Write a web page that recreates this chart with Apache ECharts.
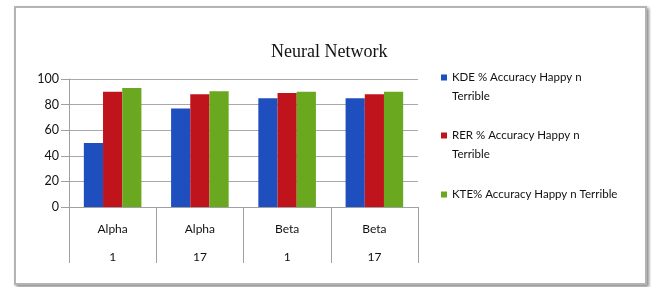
<!DOCTYPE html>
<html>
<head>
<meta charset="utf-8">
<script src="https://cdn.jsdelivr.net/npm/echarts@6/dist/echarts.min.js"></script>
<style>
  html, body { margin: 0; padding: 0; background: #fff; }
  #wrap { position: relative; width: 651px; height: 287px; overflow: hidden; }
  #frame {
    position: absolute; left: 14px; top: 6px; width: 629px; height: 275px;
    border: 2px solid #b4b4b4; box-shadow: 2px 2px 3px #8a8a8a;
  }
  #chart { position: absolute; left: 0; top: 0; width: 651px; height: 287px; }
</style>
</head>
<body>
<div id="wrap">
  <div id="frame"></div>
  <div id="chart"></div>
</div>
<script>
  // chart data
  const groupNames = ["Alpha", "Alpha", "Beta", "Beta"];
  const subNames = ["1", "17", "1", "17"];
  const seriesNames = [
    "KDE % Accuracy Happy n\nTerrible",
    "RER % Accuracy Happy n\nTerrible",
    "KTE% Accuracy Happy n Terrible"
  ];
  const kdeValues = [50, 77, 85, 85];
  const rerValues = [90, 88, 89, 88];
  const kteValues = [93, 90.5, 90, 90];
  const yTicks = [0, 20, 40, 60, 80, 100];

  const colors = ["#1f4fbf", "#c0141c", "#6aa820"];
  const sansFont = "Lato, 'Liberation Sans', Arial, sans-serif";

  const categories = groupNames.map(function (g, i) { return g + "\n" + subNames[i]; });

  // one legend per item so the square sits on the first text line
  function legendFor(idx, top, twoLines) {
    return {
      show: true,
      data: [seriesNames[idx]],
      left: 441,
      top: top,
      padding: 0,
      orient: "vertical",
      icon: "rect",
      itemWidth: 6,
      itemHeight: 6,
      itemGap: 0,
      selectedMode: false,
      formatter: function (name) { return twoLines ? "\n" + name : name; },
      textStyle: {
        fontFamily: sansFont,
        fontSize: 11.5,
        color: "#111",
        lineHeight: 19
      }
    };
  }

  const chart = echarts.init(document.getElementById("chart"), null, { renderer: "canvas" });

  const option = {
    animation: false,
    color: colors,
    title: {
      text: "Neural Network",
      left: 266,
      top: 38,
      textStyle: {
        fontFamily: "'Liberation Serif', 'Times New Roman', serif",
        fontSize: 18,
        fontWeight: "normal",
        color: "#111"
      }
    },
    legend: [
      legendFor(0, 49, true),
      legendFor(1, 107, true),
      legendFor(2, 185, false)
    ],
    grid: { left: 69, right: 233, top: 79, bottom: 80, containLabel: false },
    xAxis: {
      type: "category",
      data: categories,
      axisLine: { show: true, lineStyle: { color: "#a0a0a0", width: 1 } },
      axisTick: { show: true, length: 56, lineStyle: { color: "#a0a0a0" } },
      axisLabel: {
        margin: 8,
        lineHeight: 28,
        fontFamily: sansFont,
        fontSize: 12,
        color: "#111"
      }
    },
    yAxis: {
      type: "value",
      min: yTicks[0],
      max: yTicks[yTicks.length - 1],
      interval: 20,
      axisLine: { show: true, lineStyle: { color: "#a0a0a0" } },
      axisTick: { show: true, length: 8, inside: false, lineStyle: { color: "#a0a0a0" } },
      splitLine: { show: true, lineStyle: { color: "#a8a8a8" } },
      axisLabel: {
        margin: 10,
        fontFamily: sansFont,
        fontSize: 12.5,
        color: "#111"
      }
    },
    series: [
      { name: seriesNames[0], type: "bar", data: kdeValues, barGap: "0%", barCategoryGap: "34%" },
      { name: seriesNames[1], type: "bar", data: rerValues, barGap: "0%", barCategoryGap: "34%" },
      { name: seriesNames[2], type: "bar", data: kteValues, barGap: "0%", barCategoryGap: "34%" }
    ]
  };

  chart.setOption(option);
</script>
</body>
</html>
